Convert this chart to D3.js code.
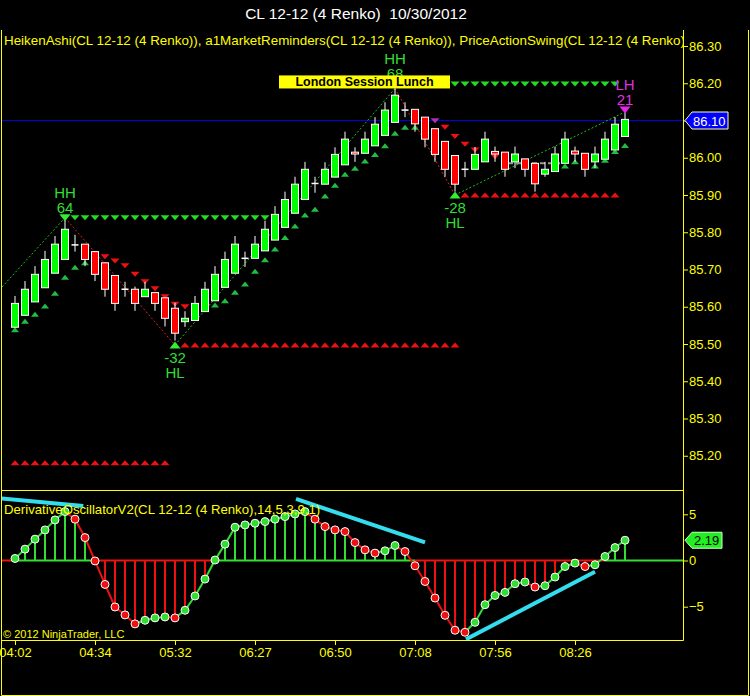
<!DOCTYPE html>
<html><head><meta charset="utf-8">
<script src="https://cdn.jsdelivr.net/npm/d3@7/dist/d3.min.js"></script>
<style>html,body{margin:0;padding:0;background:#000;}svg{display:block}</style>
</head><body><svg id="c" width="750" height="696"></svg>
<script>
// ---------- DATA ----------
const opens  = [85.545,85.577,85.613,85.651,85.690,85.727,85.766,85.768,85.748,85.718,85.684,85.647,85.647,85.627,85.638,85.624,85.596,85.560,85.563,85.587,85.616,85.652,85.690,85.730,85.730,85.750,85.779,85.813,85.851,85.888,85.931,85.929,85.948,85.981,86.015,86.012,86.032,86.060,86.095,86.128,86.130,86.109,86.078,86.044,86.006,85.969,85.969,85.989,86.017,86.015,85.989,85.997,85.985,85.956,85.963,85.985,86.018,86.012,85.989,85.996,86.021,86.057];
const highs  = [85.629,85.669,85.709,85.750,85.790,85.836,85.793,85.768,85.748,85.718,85.684,85.667,85.654,85.667,85.638,85.624,85.611,85.588,85.629,85.667,85.709,85.748,85.790,85.748,85.790,85.831,85.870,85.909,85.949,85.989,85.949,85.988,86.028,86.070,86.028,86.070,86.109,86.149,86.186,86.149,86.130,86.109,86.078,86.044,86.006,85.989,86.029,86.070,86.030,86.015,86.030,85.997,85.985,85.989,86.030,86.070,86.030,86.012,86.030,86.070,86.109,86.121];
const lows   = [85.545,85.577,85.613,85.651,85.690,85.727,85.748,85.709,85.669,85.627,85.589,85.627,85.589,85.627,85.589,85.547,85.509,85.546,85.563,85.587,85.616,85.652,85.690,85.707,85.730,85.750,85.779,85.813,85.851,85.888,85.906,85.929,85.948,85.981,85.989,86.012,86.032,86.060,86.095,86.109,86.070,86.028,85.989,85.949,85.909,85.948,85.969,85.989,85.989,85.949,85.972,85.949,85.909,85.949,85.963,85.985,85.989,85.949,85.972,85.996,86.021,86.057];
const closes = [85.609,85.647,85.687,85.727,85.768,85.808,85.766,85.727,85.687,85.647,85.609,85.647,85.609,85.647,85.609,85.569,85.529,85.569,85.609,85.647,85.687,85.727,85.768,85.730,85.768,85.808,85.848,85.888,85.929,85.969,85.931,85.969,86.009,86.050,86.010,86.050,86.090,86.128,86.168,86.128,86.091,86.050,86.009,85.969,85.929,85.969,86.009,86.050,86.010,85.969,86.010,85.969,85.930,85.969,86.010,86.050,86.010,85.969,86.010,86.050,86.090,86.103];

const oscValues = [0.22,1.23,2.31,3.31,4.39,5.29,4.47,2.48,-0.05,-2.59,-5.03,-5.89,-6.86,-6.47,-6.21,-6.11,-6.21,-5.39,-3.84,-2.01,0.05,1.77,3.60,3.85,4.03,4.21,4.47,4.75,5.04,5.29,4.47,3.67,3.31,3.13,1.94,1.15,0.80,1.05,1.62,0.97,-0.57,-2.27,-4.06,-5.93,-7.55,-7.77,-6.69,-4.78,-3.78,-3.45,-2.51,-2.33,-2.87,-2.73,-1.79,-0.65,-0.28,-0.65,-0.46,0.43,1.40,2.19];

const timeLabels = ["04:02","04:34","05:32","06:27","06:50","07:08","07:56","08:26"];
const timeIdx    = [0,8,16,24,32,40,48,56];
const priceTicks = [86.30,86.20,86.10,86.00,85.90,85.80,85.70,85.60,85.50,85.40,85.30,85.20];
const oscTicks   = [5,0,-5];

// trailing stop markers [barIndex, price]
const greenUpStops = [[0,85.538],[1,85.561],[2,85.580],[3,85.602],[4,85.636],[5,85.679],[6,85.706],[7,85.718],
  [20,85.605],[21,85.616],[22,85.639],[23,85.661],[24,85.695],[25,85.726],[26,85.755],[27,85.786],[28,85.817],[29,85.846],[30,85.862],[31,85.897],[32,85.926],[33,85.956],[34,85.972],[35,85.991],[36,86.009],[37,86.032],[38,86.066],[39,86.082],[40,86.082],
  [55,85.978],[56,85.989],[58,85.978],[59,85.993],[60,86.017],[61,86.033]];
const redDownStops = [[9,85.734],[10,85.723],[11,85.710],[12,85.687],[13,85.667],[14,85.648],[15,85.627],[16,85.607],[17,85.600],
  [43,86.082],[44,86.057],[45,86.036],[46,86.021],[47,86.013],[48,86.003]];
const magentaStops = [[42,86.099]];

// swing level lines: [fromBar, toBar, price]
const hhLevels = [[5,25,85.839],[38,60,86.198]];
const hlLevels = [[17,44,85.497],[45,60,85.900],[0,15,85.181]];

// swing points for the zig-zag [bar, price]
const swingPoints = [[-1.3,85.653],[5,85.839],[16,85.497],[38,86.186],[44,85.900],[61,86.123]];

// swing labels
const swingLabels = [
  {i:5,  p:85.839, t1:"HH", t2:"64", pos:"above", kind:"hh"},
  {i:38, p:86.198, t1:"HH", t2:"68", pos:"above", kind:"hh"},
  {i:16, p:85.497, t1:"-32", t2:"HL", pos:"below", kind:"hl"},
  {i:44, p:85.900, t1:"-28", t2:"HL", pos:"below", kind:"hl"},
  {i:61, p:86.128, t1:"LH", t2:"21", pos:"above", kind:"lh"}
];

const grayDash = [[49.3,85.985],[54.5,85.985]];
const sessionBox = {text:"London Session Lunch", i0:26.4, i1:43.5, p0:86.221, p1:86.186};
const lastPrice = 86.10;

// cyan trend lines on oscillator [bar, value]
const cyanLines = [
  [[-1.5,6.73],[6.83,5.90]],
  [[28.1,6.66],[41.0,1.97]],
  [[45.1,-8.53],[58.0,-1.21]]
];

// ---------- LAYOUT ----------
const svg = d3.select("#c");
const YEL = "#ffff00", FONT = "Arial, 'Liberation Sans', sans-serif";
const L = 2, R = 683, PT = 30, PB = 487, OT = 491, OB = 640;

const x = d3.scaleLinear().domain([0,61]).range([15,625]);
const yP = d3.scaleLinear().domain([85.3,86.3]).range([418.5,46]);
const yO = d3.scaleLinear().domain([-5,5]).range([606.7,514.3]);

svg.append("rect").attr("width",750).attr("height",696).attr("fill","#000");

const defs = svg.append("defs");
defs.append("clipPath").attr("id","cp").append("rect").attr("x",L).attr("y",PT).attr("width",R-L).attr("height",PB-PT);
defs.append("clipPath").attr("id","co").append("rect").attr("x",L).attr("y",OT).attr("width",R-L).attr("height",OB-OT);
defs.append("clipPath").attr("id","ct").append("rect").attr("x",L).attr("y",PT).attr("width",R-L).attr("height",20);

// title
svg.append("text").attr("x",356).attr("y",19).attr("text-anchor","middle")
  .attr("fill","#ffffff").attr("font-family",FONT).attr("font-size",15.5)
  .text("CL 12-12 (4 Renko)\u00a0\u00a010/30/2012");

// ---------- PRICE PANEL ----------
const gp = svg.append("g").attr("clip-path","url(#cp)");

// blue last price line
gp.append("line").attr("x1",L).attr("x2",R).attr("y1",yP(lastPrice)).attr("y2",yP(lastPrice))
  .attr("stroke","#0000e0").attr("stroke-width",1);

function tri(cx, cy, w, h, up){
  return up ? `M${cx-w/2},${cy+h/2}L${cx+w/2},${cy+h/2}L${cx},${cy-h/2}Z`
            : `M${cx-w/2},${cy-h/2}L${cx+w/2},${cy-h/2}L${cx},${cy+h/2}Z`;
}

// level lines of triangles
hhLevels.forEach(([a,b,p])=>{
  d3.range(a,b+1).forEach(i=>gp.append("path").attr("d",tri(x(i),yP(p),9,5,false)).attr("fill","#22dd22"));
});
hlLevels.forEach(([a,b,p])=>{
  d3.range(a,b+1).forEach(i=>gp.append("path").attr("d",tri(x(i),yP(p),9,5,true)).attr("fill","#ee1111"));
});

// trailing stops
gp.selectAll(".gu").data(greenUpStops).join("path").attr("d",d=>tri(x(d[0]),yP(d[1]),8,5,true)).attr("fill","#22bb44");
gp.selectAll(".rd").data(redDownStops).join("path").attr("d",d=>tri(x(d[0]),yP(d[1]),9,5,false)).attr("fill","#ee1111");
gp.selectAll(".md").data(magentaStops).join("path").attr("d",d=>tri(x(d[0]),yP(d[1]),9,5,false)).attr("fill","#aa33aa");

// gray dashed line
gp.append("line").attr("x1",x(grayDash[0][0])).attr("x2",x(grayDash[1][0]))
  .attr("y1",yP(grayDash[0][1])).attr("y2",yP(grayDash[1][1]))
  .attr("stroke","#999").attr("stroke-width",2).attr("stroke-dasharray","5,3");

// zig-zag dotted lines
for(let k=1;k<swingPoints.length;k++){
  const a=swingPoints[k-1], b=swingPoints[k];
  gp.append("line").attr("x1",x(a[0])).attr("y1",yP(a[1])).attr("x2",x(b[0])).attr("y2",yP(b[1]))
    .attr("stroke", b[1]>a[1] ? "#22bb22" : "#dd2222").attr("stroke-width",1).attr("stroke-dasharray","2,2");
}

// candles
const bars = d3.range(opens.length).map(i=>({i,o:opens[i],h:highs[i],l:lows[i],c:closes[i]}));
const bw = 7;
bars.forEach(d=>{
  const cx = x(d.i);
  gp.append("line").attr("x1",cx).attr("x2",cx).attr("y1",yP(d.h)).attr("y2",yP(d.l))
    .attr("stroke","#fff").attr("stroke-width",1);
  if (d.o === d.c){
    gp.append("line").attr("x1",cx-bw/2).attr("x2",cx+bw/2).attr("y1",yP(d.o)).attr("y2",yP(d.o))
      .attr("stroke","#fff").attr("stroke-width",1.5);
  } else {
    const top = yP(Math.max(d.o,d.c)), bot = yP(Math.min(d.o,d.c));
    gp.append("rect").attr("x",cx-bw/2).attr("y",top).attr("width",bw).attr("height",Math.max(bot-top,1.5))
      .attr("fill", d.c>d.o ? "#00ff00" : "#ff0000").attr("stroke","#fff").attr("stroke-width",1);
  }
});

// swing markers + labels
swingLabels.forEach(s=>{
  const cx=x(s.i), cy=yP(s.p);
  const col = s.kind==="lh" ? "#dd33dd" : "#33dd33";
  const up = s.pos==="below";
  gp.append("path").attr("d",tri(cx,cy,11,7,up)).attr("fill", s.kind==="lh" ? "#ee22ee" : "#33ee33");
  const t = gp.append("g").attr("fill",col).attr("font-family",FONT).attr("font-size",15).attr("text-anchor","middle");
  if (s.pos==="above"){
    t.append("text").attr("x",cx).attr("y",cy-20).text(s.t1);
    t.append("text").attr("x",cx).attr("y",cy-5).text(s.t2);
  } else {
    t.append("text").attr("x",cx).attr("y",cy+18).text(s.t1);
    t.append("text").attr("x",cx).attr("y",cy+33).text(s.t2);
  }
});

// London session box
gp.append("rect").attr("x",x(sessionBox.i0)).attr("y",yP(sessionBox.p0))
  .attr("width",x(sessionBox.i1)-x(sessionBox.i0)).attr("height",yP(sessionBox.p1)-yP(sessionBox.p0))
  .attr("fill","#ffff00");
gp.append("text").attr("x",(x(sessionBox.i0)+x(sessionBox.i1))/2).attr("y",yP(sessionBox.p1)-2)
  .attr("text-anchor","middle").attr("fill","#000").attr("font-weight","bold")
  .attr("font-family",FONT).attr("font-size",12.5).text(sessionBox.text);

// indicator title
svg.append("g").attr("clip-path","url(#ct)").append("text").attr("x",4).attr("y",45).attr("fill",YEL).attr("font-family",FONT).attr("font-size",13.4)
  .text("HeikenAshi(CL 12-12 (4 Renko)), a1MarketReminders(CL 12-12 (4 Renko)), PriceActionSwing(CL 12-12 (4 Renko))");

// price axis (label under the price tag is hidden by the tag, so it is not drawn)
const pAxis = svg.append("g").attr("transform",`translate(${R},0)`)
  .call(d3.axisRight(yP).tickValues(priceTicks).tickFormat(d=> Math.abs(d-lastPrice)<1e-9 ? "" : d3.format(".2f")(d)).tickSize(5).tickPadding(1));
pAxis.select(".domain").remove();
pAxis.selectAll("line").attr("stroke",YEL);
pAxis.selectAll("text").attr("fill",YEL).attr("font-family",FONT).attr("font-size",13);

// price tag
(function(){
  const cy=yP(lastPrice), x0=R+2, x1=728, h=17;
  svg.append("path").attr("d",`M${x0},${cy}L${x0+7},${cy-h/2}L${x1},${cy-h/2}L${x1},${cy+h/2}L${x0+7},${cy+h/2}Z`)
    .attr("fill","#0000ff").attr("stroke","#ffffaa").attr("stroke-width",1);
  svg.append("text").attr("x",x0+8).attr("y",cy+5).attr("fill","#fff").attr("font-family",FONT).attr("font-size",13).text(lastPrice.toFixed(2));
})();

// ---------- OSCILLATOR PANEL ----------
const go = svg.append("g").attr("clip-path","url(#co)");
const z = yO(0);
// zero line
go.append("line").attr("x1",L).attr("x2",x(0)).attr("y1",z).attr("y2",z).attr("stroke","#ee1111").attr("stroke-width",2);
oscValues.forEach((v,i)=>{
  const xe = i<oscValues.length-1 ? x(i+1) : R;
  go.append("line").attr("x1",x(i)).attr("x2",xe).attr("y1",z).attr("y2",z)
    .attr("stroke", v>=0 ? "#33dd33" : "#ee1111").attr("stroke-width",2);
});
// histogram
go.selectAll(".hb").data(oscValues).join("line")
  .attr("x1",(v,i)=>x(i)).attr("x2",(v,i)=>x(i)).attr("y1",z).attr("y2",v=>yO(v))
  .attr("stroke",v=>v>=0 ? "#33dd33" : "#ee1111").attr("stroke-width",2);
// line segments
const dotCol = oscValues.map((v,i)=> i===0 || v>=oscValues[i-1] ? "#33dd33" : "#ee1111");
for(let i=1;i<oscValues.length;i++){
  go.append("line").attr("x1",x(i-1)).attr("y1",yO(oscValues[i-1])).attr("x2",x(i)).attr("y2",yO(oscValues[i]))
    .attr("stroke",dotCol[i]).attr("stroke-width",2);
}
// cyan lines
cyanLines.forEach(l=>{
  go.append("line").attr("x1",x(l[0][0])).attr("y1",yO(l[0][1])).attr("x2",x(l[1][0])).attr("y2",yO(l[1][1]))
    .attr("stroke","#33ddee").attr("stroke-width",4);
});
// dots
go.selectAll(".dt").data(oscValues).join("circle")
  .attr("cx",(v,i)=>x(i)).attr("cy",v=>yO(v)).attr("r",4)
  .attr("fill",(v,i)=>dotCol[i]).attr("stroke","#fff").attr("stroke-width",1);

svg.append("text").attr("x",4).attr("y",514).attr("fill",YEL).attr("font-family",FONT).attr("font-size",13.2)
  .text("DerivativeOscillatorV2(CL 12-12 (4 Renko),14,5,3,9,1)");
svg.append("text").attr("x",3).attr("y",638).attr("fill",YEL).attr("font-family",FONT).attr("font-size",11)
  .text("© 2012 NinjaTrader, LLC");

// osc axis
const oAxis = svg.append("g").attr("transform",`translate(${R},0)`)
  .call(d3.axisRight(yO).tickValues(oscTicks).tickFormat(d3.format("d")).tickSize(5).tickPadding(1));
oAxis.select(".domain").remove();
oAxis.selectAll("line").attr("stroke",YEL);
oAxis.selectAll("text").attr("fill",YEL).attr("font-family",FONT).attr("font-size",13);

// osc tag
(function(){
  const v=oscValues[oscValues.length-1], cy=yO(v), x0=R+2, x1=722, h=16;
  svg.append("path").attr("d",`M${x0},${cy}L${x0+7},${cy-h/2}L${x1},${cy-h/2}L${x1},${cy+h/2}L${x0+7},${cy+h/2}Z`)
    .attr("fill","#22ee22").attr("stroke","#ccffcc").attr("stroke-width",1);
  svg.append("text").attr("x",x0+9).attr("y",cy+5).attr("fill","#000").attr("font-family",FONT).attr("font-size",13).text(v.toFixed(2));
})();

// time axis
const tAxis = svg.append("g").attr("transform",`translate(0,${OB})`)
  .call(d3.axisBottom(x).tickValues(timeIdx).tickFormat((d,k)=>timeLabels[k]).tickSize(5).tickPadding(3));
tAxis.select(".domain").remove();
tAxis.selectAll("line").attr("stroke",YEL);
tAxis.selectAll("text").attr("fill",YEL).attr("font-family",FONT).attr("font-size",13);

// frames
const fr = svg.append("g").attr("stroke",YEL).attr("stroke-width",1).attr("fill","none");
fr.append("line").attr("x1",1.5).attr("x2",1.5).attr("y1",PT).attr("y2",695.5);
fr.append("line").attr("x1",R+0.5).attr("x2",R+0.5).attr("y1",PT).attr("y2",OB+0.5);
fr.append("line").attr("x1",1.5).attr("x2",R+0.5).attr("y1",OT-0.5).attr("y2",OT-0.5);
fr.append("line").attr("x1",1.5).attr("x2",R+0.5).attr("y1",OB+0.5).attr("y2",OB+0.5);
fr.append("line").attr("x1",748.5).attr("x2",748.5).attr("y1",PT).attr("y2",695.5);
fr.append("line").attr("x1",1.5).attr("x2",748.5).attr("y1",695.5).attr("y2",695.5);
</script></body></html>
